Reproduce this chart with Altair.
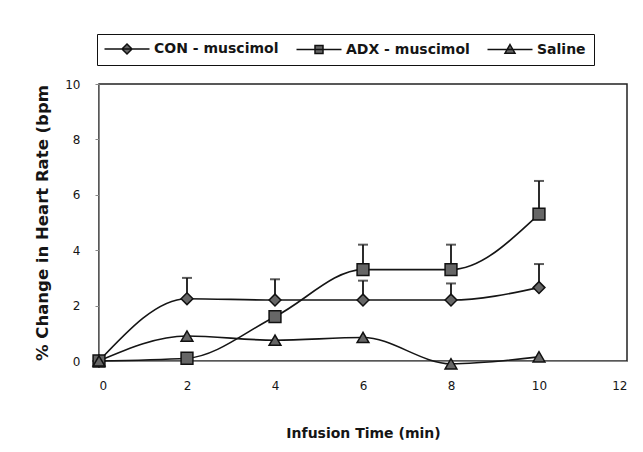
import altair as alt
import pandas as pd

times = [0, 2, 4, 6, 8, 10]
series_names = ["CON - muscimol", "ADX - muscimol", "Saline"]
con_values = [0, 2.25, 2.2, 2.2, 2.2, 2.65]
con_upper = [0, 3.0, 2.95, 2.9, 2.8, 3.5]
adx_values = [0, 0.1, 1.6, 3.3, 3.3, 5.3]
adx_upper = [0, 0.1, 1.6, 4.2, 4.2, 6.5]
saline_values = [0, 0.9, 0.75, 0.85, -0.1, 0.15]
saline_upper = [0, 0.9, 0.75, 0.85, -0.1, 0.15]

rows = []
for name, vals, ups in zip(series_names,
                           [con_values, adx_values, saline_values],
                           [con_upper, adx_upper, saline_upper]):
    for t, v, u in zip(times, vals, ups):
        rows.append({"time": t, "value": v, "upper": u, "series": name})
df = pd.DataFrame(rows)

font = "DejaVu Sans"
ink = "#151515"
xscale = alt.Scale(domain=[0, 12], nice=False)
yscale = alt.Scale(domain=[0, 10], nice=False)

x = alt.X("time:Q", scale=xscale, title="Infusion Time (min)",
          axis=alt.Axis(values=[0, 2, 4, 6, 8, 10, 12], grid=False, domain=True,
                        tickSize=0, labelPadding=19, titlePadding=35,
                        labelFontSize=12, titleFontSize=14, titleFontWeight="bold",
                        labelFont=font, titleFont=font, labelColor=ink, titleColor=ink))
y = alt.Y("value:Q", scale=yscale, title="% Change in Heart Rate (bpm",
          axis=alt.Axis(values=[0, 2, 4, 6, 8, 10], grid=False, tickSize=4,
                        labelPadding=15, titlePadding=14,
                        labelFontSize=12, titleFontSize=16.5, titleFontWeight="bold",
                        labelFont=font, titleFont=font, labelColor=ink, titleColor=ink))

base = alt.Chart(df)

lines = base.mark_line(interpolate="monotone", color=ink, strokeWidth=1.6).encode(
    x=x, y=y, detail="series:N")

err = base.transform_filter(alt.datum.upper > alt.datum.value).mark_rule(
    color=ink, strokeWidth=1.8).encode(x="time:Q", y="value:Q", y2="upper:Q")
caps = base.transform_filter(alt.datum.upper > alt.datum.value).mark_tick(
    color=ink, orient="horizontal", size=10, thickness=2).encode(x="time:Q", y="upper:Q")

points = base.mark_point(filled=True, size=140, fill="#666", stroke="#111",
                         strokeWidth=1.5, opacity=1).encode(
    x="time:Q", y="value:Q",
    shape=alt.Shape("series:N",
                    scale=alt.Scale(domain=series_names,
                                    range=["diamond", "square", "triangle-up"]),
                    legend=None))

# legend-only layers (no marks drawn): line-with-marker symbols
legend_paths = [
    "M-4.5,0L4.5,0M0,-1L1,0L0,1L-1,0Z",
    "M-4.5,0L4.5,0M-0.8,-0.8L0.8,-0.8L0.8,0.8L-0.8,0.8Z",
    "M-4.5,0L4.5,0M0,-1L1,0.75L-1,0.75Z",
]


def legend_props(**kw):
    props = dict(title=None, orient="none", direction="horizontal",
                 legendX=-2, legendY=-50, padding=8,
                 labelFont=font, labelFontSize=14, labelFontWeight="bold",
                 labelColor=ink, symbolSize=100, symbolStrokeWidth=1.5,
                 symbolOffset=15, labelOffset=20, columnPadding=14)
    props.update(kw)
    return alt.Legend(**props)


legend_fill = base.transform_filter("false").mark_point(
    filled=True, fill="#666", opacity=1).encode(
    x="time:Q", y="value:Q",
    shape=alt.Shape("series:N",
                    scale=alt.Scale(domain=series_names, range=legend_paths),
                    legend=legend_props(strokeColor="#111", symbolFillColor="#666")))

legend_stroke = base.transform_filter("false").mark_point(
    filled=False, color="#111", strokeWidth=1.5, opacity=1).encode(
    x="time:Q", y="value:Q",
    shape=alt.Shape("series:N",
                    scale=alt.Scale(domain=series_names, range=legend_paths),
                    legend=legend_props(labelOpacity=0, symbolStrokeColor="#111")))

chart = alt.layer(lines, err, caps, points, legend_fill, legend_stroke).resolve_scale(
    shape="independent"
).properties(
    width=528, height=277,
    padding={"left": 26, "top": 25, "right": 3, "bottom": 5},
    background="white",
).configure_view(stroke="#222", strokeWidth=1.5)

chart.save("out.html", embed_options={"renderer": "svg", "actions": False})
